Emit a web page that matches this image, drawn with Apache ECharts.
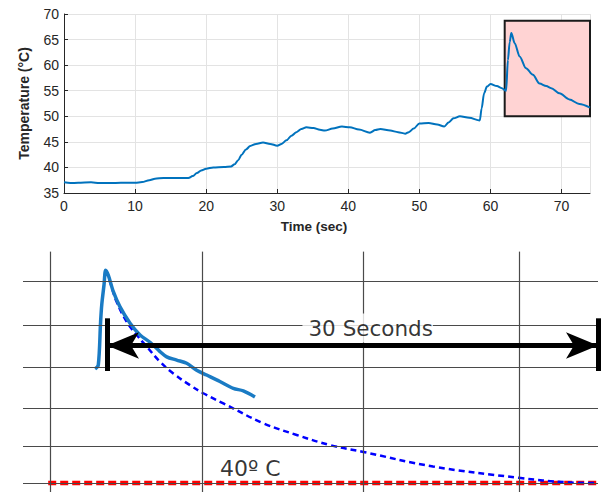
<!DOCTYPE html>
<html><head><meta charset="utf-8">
<script src="https://cdn.jsdelivr.net/npm/echarts@6/dist/echarts.min.js"></script>
<style>html,body{margin:0;padding:0;background:#fff}#c{width:601px;height:493px}</style>
</head><body><div id="c"></div>
<script>
// ---------- Top chart: measured temperature ----------
const topTime = [0, 0.9, 2, 3.8, 5, 6.5, 8, 10, 11, 12,
  12.8, 14, 16, 17.5, 18.1, 18.7, 19.3, 20, 21, 22.5,
  23.5, 24, 24.5, 25, 25.6, 26.2, 27, 28, 29, 30,
  30.6, 31.3, 32, 32.7, 33.4, 34.1, 35.1, 36, 36.7, 37.8,
  39.1, 40.2, 41.5, 43.05, 43.8, 44.5, 45.9, 47, 48, 48.5,
  49.2, 50, 51.3, 52.5, 53.5, 54.1, 54.8, 55.7, 57, 58.5,
  58.75, 59.1, 59.5, 60, 60.9, 61.6, 62.2, 62.45, 62.7, 62.93,
  63.4, 64.1, 65, 65.97, 66.9, 67.85, 68.55, 69.7, 71.1, 72.5, 74];
const topTemp = [37.1, 36.95, 37.0, 37.1, 36.95, 36.95, 37.0, 37.0, 37.15, 37.5,
  37.8, 37.95, 37.95, 37.95, 38.3, 38.9, 39.4, 39.75, 40.0, 40.1,
  40.2, 40.6, 41.4, 42.5, 43.5, 44.2, 44.6, 44.85, 44.6, 44.25,
  44.6, 45.3, 46.2, 46.9, 47.5, 47.85, 47.7, 47.35, 47.2, 47.6,
  48.0, 47.85, 47.4, 46.8, 47.3, 47.5, 47.2, 46.9, 46.6, 46.9,
  47.6, 48.6, 48.7, 48.4, 48.0, 48.8, 49.6, 50.0, 49.7, 49.2,
  51.5, 54.5, 55.8, 56.3, 55.9, 55.5, 55.0, 61.0, 64.5, 66.3,
  64.3, 61.7, 59.4, 58.1, 56.4, 55.9, 55.5, 54.5, 53.3, 52.4, 51.7];
const boxTime = [62, 74];
const boxTemp = [50, 68.7];
const xTickStep = 10;
const yTickStep = 5;

// ---------- Bottom sketch ----------
const measTime = [-0.73, -0.53, -0.39, -0.32, -0.18, -0.08, 0.08, 0.39, 0.79, 1.41, 2.02,
  2.63, 3.24, 3.65, 4.26, 4.87, 5.48, 6.09, 6.90, 7.72, 8.33, 9.04];
const measTemp = [54.1, 54.6, 59.9, 62.0, 64.5, 66.3, 65.7, 63.65, 61.8, 59.75, 58.3,
  57.4, 56.25, 55.6, 55.2, 54.8, 53.95, 53.35, 52.55, 51.7, 51.4, 50.65];
const fitTime = [-0.08, 0.18, 0.59, 1.2, 1.82, 2.43, 3.24, 4.05, 5.07, 5.88, 7.11,
  9.55, 11.59, 13.62, 15.66, 19.92, 25.17, 28.09, 30.0];
const fitTemp = [66.3, 64.9, 62.4, 59.95, 58.3, 56.85, 55.0, 53.55, 52.1, 51.1, 49.85,
  47.4, 45.95, 44.7, 43.85, 42.05, 40.65, 40.1, 40.0];
const hGridTemps = [64.9, 59.45, 54.35, 49.3, 44.55, 40];
const vGridTimes = [-3.48, 5.82, 15.66, 25.17];
const sketchTimeRange = [-5.13, 30];
const sketchTempRange = [38.9, 68.8];
const vGridTop = 68.6;
const baselineTemp = 40;
const baselineStart = -3.59;
const arrowSpan = [0, 30];
const arrowTemp = 57.0;
const arrowBarTemps = [53.85, 60.36];
const annotTexts = ['30 Seconds', '40\u00BA C'];
const annotTime = [15.93, 8.76];
const annotTemp = [59.16, 41.8];

const TXT = '#262626';
const chart = echarts.init(document.getElementById('c'), null, {renderer: 'svg'});

const hLines = hGridTemps.map(y => [{coord: [sketchTimeRange[0], y]}, {coord: [sketchTimeRange[1], y]}]);
const vLines = vGridTimes.map(x => [{coord: [x, vGridTop]}, {coord: [x, sketchTempRange[0]]}]);

chart.setOption({
  animation: false,
  backgroundColor: '#fff',
  grid: [
    {left: 64, top: 14, width: 526, height: 179},
    {left: 23, top: 250, width: 575, height: 242}
  ],
  xAxis: [
    {gridIndex: 0, type: 'value', min: 0, max: 74, interval: xTickStep,
     name: 'Time (sec)', nameLocation: 'middle', nameGap: 26,
     nameTextStyle: {fontFamily: 'Liberation Sans', fontWeight: 'bold', fontSize: 13.5, color: TXT, padding: [0, 26, 0, 0]},
     axisLine: {show: true, onZero: false, lineStyle: {color: TXT, width: 1}},
     axisTick: {show: true, inside: true, length: 4, lineStyle: {color: TXT}},
     axisLabel: {fontFamily: 'Liberation Sans', fontSize: 14, color: TXT, margin: 6, showMaxLabel: false},
     splitLine: {show: true, lineStyle: {color: '#e3e3e3', width: 1}}},
    {gridIndex: 1, type: 'value', min: sketchTimeRange[0], max: sketchTimeRange[1], show: false}
  ],
  yAxis: [
    {gridIndex: 0, type: 'value', min: 35, max: 70, interval: yTickStep,
     name: 'Temperature (\u00B0C)', nameLocation: 'middle', nameGap: 33,
     nameTextStyle: {fontFamily: 'Liberation Sans', fontWeight: 'bold', fontSize: 14, color: TXT},
     axisLine: {show: true, onZero: false, lineStyle: {color: TXT, width: 1}},
     axisTick: {show: true, inside: true, length: 4, lineStyle: {color: TXT}},
     axisLabel: {fontFamily: 'Liberation Sans', fontSize: 14, color: TXT, margin: 5},
     splitLine: {show: true, lineStyle: {color: '#e3e3e3', width: 1}}},
    {gridIndex: 1, type: 'value', min: sketchTempRange[0], max: sketchTempRange[1], show: false}
  ],
  series: [
    {type: 'line', xAxisIndex: 0, yAxisIndex: 0, data: [], z: 1, silent: true,
     markArea: {silent: true, itemStyle: {color: '#ffd3d3', borderColor: '#1a1a1a', borderWidth: 2},
       data: [[{coord: [boxTime[0], boxTemp[1]]}, {coord: [boxTime[1], boxTemp[0]]}]]}},
    {type: 'line', xAxisIndex: 0, yAxisIndex: 0, z: 3,
     data: topTime.map((t, i) => [t, topTemp[i]]),
     showSymbol: false, smooth: 0.3, smoothMonotone: 'x',
     lineStyle: {color: '#0072BD', width: 2}},
    {type: 'line', xAxisIndex: 1, yAxisIndex: 1, data: [], z: 1, silent: true,
     markLine: {silent: true, symbol: 'none', label: {show: false},
       lineStyle: {color: '#4a4a4a', width: 1.2, type: 'solid'},
       data: hLines.concat(vLines)}},
    {type: 'line', xAxisIndex: 1, yAxisIndex: 1, z: 3, showSymbol: false,
     data: [[baselineStart, baselineTemp], [sketchTimeRange[1], baselineTemp]],
     lineStyle: {color: '#ff0000', width: 4.5, type: [8, 4]}},
    {type: 'line', xAxisIndex: 1, yAxisIndex: 1, z: 3, showSymbol: false, smooth: 0.4,
     data: fitTime.map((t, i) => [t, fitTemp[i]]),
     lineStyle: {color: '#0000ff', width: 2.5, type: [6, 4]}},
    {type: 'line', xAxisIndex: 1, yAxisIndex: 1, z: 4, showSymbol: false, smooth: 0.3,
     data: measTime.map((t, i) => [t, measTemp[i]]),
     lineStyle: {color: '#1a7bc4', width: 3.5}},
    {type: 'line', xAxisIndex: 1, yAxisIndex: 1, data: [], z: 5, silent: true,
     markLine: {silent: true, label: {show: false},
       symbol: ['arrow', 'arrow'], symbolSize: [20, 32],
       lineStyle: {color: '#000', width: 5, type: 'solid'},
       itemStyle: {color: '#000'},
       data: [[{coord: [arrowSpan[0], arrowTemp]}, {coord: [arrowSpan[1], arrowTemp]}]]}},
    {type: 'line', xAxisIndex: 1, yAxisIndex: 1, data: [], z: 5, silent: true,
     markLine: {silent: true, label: {show: false}, symbol: 'none',
       lineStyle: {color: '#000', width: 5, type: 'solid'},
       data: arrowSpan.map(x => [{coord: [x, arrowBarTemps[0]]}, {coord: [x, arrowBarTemps[1]]}])}},
    {type: 'scatter', xAxisIndex: 1, yAxisIndex: 1, z: 6, silent: true,
     symbolSize: 1, itemStyle: {color: 'rgba(0,0,0,0)'},
     data: annotTexts.map((s, i) => ({name: s, value: [annotTime[i], annotTemp[i]],
       label: i === 0 ? {backgroundColor: '#fff', padding: [4, 0, 3, 6]} : {fontSize: 22}})),
     label: {show: true, position: 'inside', formatter: p => p.name,
       fontFamily: 'DejaVu Sans', fontSize: 21.5, color: '#000', textBorderWidth: 0}}
  ]
});
</script></body></html>
